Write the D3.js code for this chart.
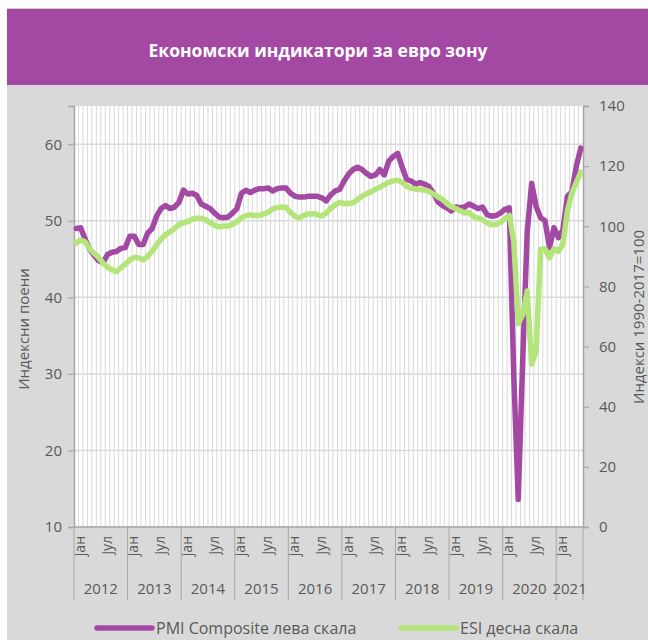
<!DOCTYPE html>
<html>
<head>
<meta charset="utf-8">
<script src="https://cdn.jsdelivr.net/npm/d3@7"></script>
<style>
	body { margin: 0; background: #fff; }
	svg text { font-family: "Open Sans", "Noto Sans", sans-serif; }
</style>
</head>
<body>
<div id="chart"></div>
<script>
	// PMI Composite (лева скала), јан 2012 - јун 2021
	var pmi = [
		49.0, 49.1, 47.6, 46.3, 45.5, 44.8, 44.5, 45.6, 45.9, 46.0, 46.4, 46.5,
		48.0, 48.0, 46.9, 46.9, 48.4, 49.0, 50.6, 51.6, 52.0, 51.6, 51.8, 52.4,
		54.0, 53.5, 53.6, 53.3, 52.2, 51.9, 51.6, 51.0, 50.5, 50.4, 50.5, 51.0,
		51.6, 53.6, 54.0, 53.7, 54.0, 54.2, 54.2, 54.3, 53.9, 54.2, 54.3, 54.3,
		53.6, 53.2, 53.1, 53.1, 53.2, 53.2, 53.2, 53.0, 52.6, 53.4, 53.9, 54.1,
		55.2, 56.1, 56.7, 57.0, 56.7, 56.2, 55.8, 56.0, 56.7, 56.0, 57.8, 58.4,
		58.8, 57.0, 55.4, 55.2, 54.8, 55.0, 54.8, 54.5, 53.6, 52.5, 52.0, 51.7,
		51.3, 51.8, 51.7, 51.8, 52.2, 51.9, 51.6, 51.8, 50.8, 50.6, 50.7, 51.0,
		51.5, 51.7, 29.7, 13.6, 31.9, 48.5, 54.9, 51.9, 50.4, 50.0, 46.5, 49.1,
		47.8, 48.8, 53.2, 53.8, 57.1, 59.5
	];
	// ESI (десна скала)
	var esi = [
		94.5, 95.4, 94.8, 92.6, 91.0, 89.6, 87.8, 86.4, 85.5, 84.9, 86.2, 87.4,
		88.8, 89.7, 89.5, 88.8, 90.0, 91.7, 93.8, 95.8, 97.2, 98.2, 99.2, 100.5,
		101.2, 101.6, 102.4, 102.7, 102.6, 102.2, 101.2, 100.3, 99.8, 100.1, 100.1, 100.6,
		101.5, 102.8, 103.5, 103.8, 103.6, 103.6, 104.1, 104.6, 105.8, 106.2, 106.4, 106.3,
		104.6, 103.3, 102.8, 103.6, 104.1, 104.2, 103.9, 103.4, 104.4, 106.0, 107.1, 107.9,
		107.6, 107.6, 107.8, 108.9, 110.0, 110.8, 111.5, 112.3, 113.0, 113.8, 114.6, 115.1,
		115.3, 114.6, 113.3, 112.6, 112.4, 112.2, 112.1, 111.6, 110.8, 109.8, 108.9, 107.6,
		106.5, 105.9, 105.2, 104.4, 104.6, 103.2, 102.7, 102.2, 101.2, 100.5, 100.6, 101.3,
		102.6, 103.6, 95.0, 67.7, 70.5, 78.5, 54.2, 58.5, 92.3, 92.5, 89.5, 92.5,
		91.7, 94.0, 105.0, 111.0, 114.5, 118.0
	];
	var years = ['2012', '2013', '2014', '2015', '2016', '2017', '2018', '2019', '2020', '2021'];
	var monthLabels = {0: 'јан', 6: 'јул'};
	var leftTicks = [10, 20, 30, 40, 50, 60];
	var rightTicks = [0, 20, 40, 60, 80, 100, 120, 140];

	var W = 648, H = 640;
	var plot = {left: 74, right: 583, top: 106, bottom: 527};
	var purple = '#a349a4', green = '#b3e57a', grid = '#d9d9d9', txt = '#595959';

	var svg = d3.select('#chart').append('svg').attr('width', W).attr('height', H);

	// backgrounds
	svg.append('rect').attr('x', 7).attr('y', 85).attr('width', W - 7).attr('height', H - 85).attr('fill', '#d9d9d9');
	svg.append('rect').attr('x', 7).attr('y', 9).attr('width', W - 7).attr('height', 76).attr('fill', '#a349a4');
	svg.append('line').attr('x1', 7).attr('x2', W).attr('y1', 8.5).attr('y2', 8.5).attr('stroke', '#d0d0d0');
	svg.append('text').attr('x', 318).attr('y', 50).attr('text-anchor', 'middle').attr('dominant-baseline', 'central')
		.attr('fill', '#fff').attr('font-weight', 'bold').attr('font-size', 17.5).text('Економски индикатори за евро зону');

	var n = pmi.length;
	var x = d3.scaleBand().domain(d3.range(n)).range([plot.left, plot.right]);
	var cx = function(i) { return x(i) + x.bandwidth() / 2; };
	var yL = d3.scaleLinear().domain([10, 65]).range([plot.bottom, plot.top]);
	var yR = d3.scaleLinear().domain([0, 140]).range([plot.bottom, plot.top]);

	svg.append('rect').attr('x', plot.left).attr('y', plot.top).attr('width', plot.right - plot.left)
		.attr('height', plot.bottom - plot.top).attr('fill', '#fff');

	// monthly vertical grid
	svg.append('g').selectAll('line').data(d3.range(1, n)).enter().append('line')
		.attr('x1', function(i) { return x(i); }).attr('x2', function(i) { return x(i); })
		.attr('y1', plot.top).attr('y2', plot.bottom).attr('stroke', grid).attr('stroke-width', 1);
	// horizontal grid
	svg.append('g').selectAll('line').data(leftTicks).enter().append('line')
		.attr('x1', plot.left).attr('x2', plot.right)
		.attr('y1', function(d) { return yL(d); }).attr('y2', function(d) { return yL(d); })
		.attr('stroke', grid).attr('stroke-width', 1.5);

	// left axis
	var gl = svg.append('g').attr('transform', 'translate(' + plot.left + ',0)')
		.call(d3.axisLeft(yL).tickValues(leftTicks).tickSize(6).tickPadding(6));
	// right axis
	var gr = svg.append('g').attr('transform', 'translate(' + plot.right + ',0)')
		.call(d3.axisRight(yR).tickValues(rightTicks).tickSize(6).tickPadding(10));
	[gl, gr].forEach(function(g) {
		g.select('.domain').attr('stroke', '#a6a6a6').attr('stroke-width', 1.5);
		g.selectAll('.tick line').attr('stroke', '#a6a6a6').attr('stroke-width', 1.2);
		g.selectAll('.tick text').attr('fill', txt).attr('font-size', 15).attr('font-family', '"Open Sans", sans-serif');
	});

	svg.append('text').attr('transform', 'translate(23,329) rotate(-90)').attr('text-anchor', 'middle')
		.attr('dominant-baseline', 'central').attr('fill', txt).attr('font-size', 15).text('Индексни поени');
	svg.append('text').attr('transform', 'translate(638,317) rotate(-90)').attr('text-anchor', 'middle')
		.attr('dominant-baseline', 'central').attr('fill', txt).attr('font-size', 15).text('Индекси 1990-2017=100');

	// bottom axis: month labels, year groups
	svg.append('line').attr('x1', plot.left).attr('x2', plot.right).attr('y1', plot.bottom).attr('y2', plot.bottom)
		.attr('stroke', '#a6a6a6').attr('stroke-width', 1.5);
	var mIdx = d3.range(n).filter(function(i) { return monthLabels[i % 12] !== undefined; });
	svg.append('g').selectAll('text').data(mIdx).enter().append('text')
		.attr('transform', function(i) { return 'translate(' + (cx(i) + 3) + ',536) rotate(-90)'; })
		.attr('text-anchor', 'end').attr('dominant-baseline', 'central')
		.attr('fill', txt).attr('font-size', 14).text(function(i) { return monthLabels[i % 12]; });
	var yearStarts = years.map(function(y, k) { return k * 12; });
	svg.append('g').selectAll('line').data(yearStarts.concat([n])).enter().append('line')
		.attr('x1', function(i) { return i < n ? x(i) : plot.right; })
		.attr('x2', function(i) { return i < n ? x(i) : plot.right; })
		.attr('y1', plot.bottom).attr('y2', 600).attr('stroke', '#a6a6a6').attr('stroke-width', 1);
	svg.append('g').selectAll('text').data(years).enter().append('text')
		.attr('x', function(y, k) {
			var a = x(k * 12), b = (k + 1) * 12 < n ? x((k + 1) * 12) : plot.right;
			return (a + b) / 2;
		})
		.attr('y', 588).attr('text-anchor', 'middle').attr('dominant-baseline', 'central')
		.attr('fill', txt).attr('font-size', 15).text(function(d) { return d; });

	// series lines (ESI on the secondary axis drawn last)
	var lineL = d3.line().x(function(d, i) { return cx(i); }).y(function(d) { return yL(d); });
	var lineR = d3.line().x(function(d, i) { return cx(i); }).y(function(d) { return yR(d); });
	svg.append('path').datum(pmi).attr('d', lineL).attr('fill', 'none').attr('stroke', purple)
		.attr('stroke-width', 5.5).attr('stroke-linejoin', 'round').attr('stroke-linecap', 'round');
	svg.append('path').datum(esi).attr('d', lineR).attr('fill', 'none').attr('stroke', green)
		.attr('stroke-width', 5.5).attr('stroke-linejoin', 'round').attr('stroke-linecap', 'round');

	// legend
	var legend = [
		{name: 'PMI Composite лева скала', color: purple, x: 97},
		{name: 'ESI десна скала', color: green, x: 401}
	];
	var lg = svg.append('g').selectAll('g').data(legend).enter().append('g');
	lg.append('line').attr('x1', function(d) { return d.x; }).attr('x2', function(d) { return d.x + 55; })
		.attr('y1', 628).attr('y2', 628).attr('stroke', function(d) { return d.color; })
		.attr('stroke-width', 5.5).attr('stroke-linecap', 'round');
	lg.append('text').attr('x', function(d) { return d.x + 59; }).attr('y', 628).attr('dominant-baseline', 'central')
		.attr('fill', txt).attr('font-size', 16).text(function(d) { return d.name; });
</script>
</body>
</html>
